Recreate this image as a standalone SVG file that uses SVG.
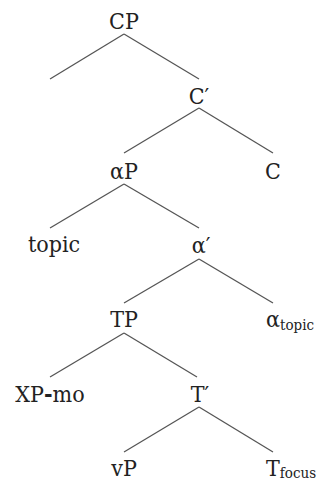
<svg xmlns="http://www.w3.org/2000/svg" width="320" height="481" viewBox="0 0 320 481">
<style>
text{font-family:'DejaVu Serif Condensed','DejaVu Serif',serif;font-stretch:condensed;font-size:23px;fill:#222;text-anchor:middle}
.s{text-anchor:start}
.sub{font-size:15px}
.edges line{stroke:#555;stroke-width:1.3;fill:none}
</style>
<rect width="320" height="481" fill="#fff"/>
<g class="edges" id="connectors">
<line x1="124" y1="34" x2="50" y2="79"/>
<line x1="124" y1="34" x2="199" y2="79"/>
<line x1="199" y1="108" x2="124" y2="153"/>
<line x1="199" y1="108" x2="273" y2="153"/>
<line x1="124" y1="184" x2="50" y2="228"/>
<line x1="124" y1="184" x2="199" y2="228"/>
<line x1="199" y1="259" x2="124" y2="303"/>
<line x1="199" y1="259" x2="273" y2="303"/>
<line x1="124" y1="333" x2="50" y2="377"/>
<line x1="124" y1="333" x2="197" y2="377"/>
<line x1="199" y1="407" x2="124" y2="452"/>
<line x1="199" y1="407" x2="273" y2="452"/>
</g>
<g id="CP"><text x="124" y="29">CP</text></g>
<g id="Cbar"><text x="199" y="104">C′</text></g>
<g id="aP"><text x="124" y="179">αP</text></g>
<g id="C"><text x="273" y="179">C</text></g>
<g id="topic"><text x="54" y="252">topic</text></g>
<g id="abar"><text x="201" y="253">α′</text></g>
<g id="TP"><text x="124" y="327">TP</text></g>
<g id="atopic"><text class="s" x="266" y="327">α<tspan class="sub" dy="3">topic</tspan></text></g>
<g id="XPmo"><text x="50" y="402">XP<tspan font-weight="bold">-</tspan>mo</text></g>
<g id="Tbar"><text x="200" y="402">T′</text></g>
<g id="vP"><text x="124" y="476">vP</text></g>
<g id="Tfocus"><text class="s" x="266" y="476">T<tspan class="sub" dy="2">focus</tspan></text></g>
</svg>
